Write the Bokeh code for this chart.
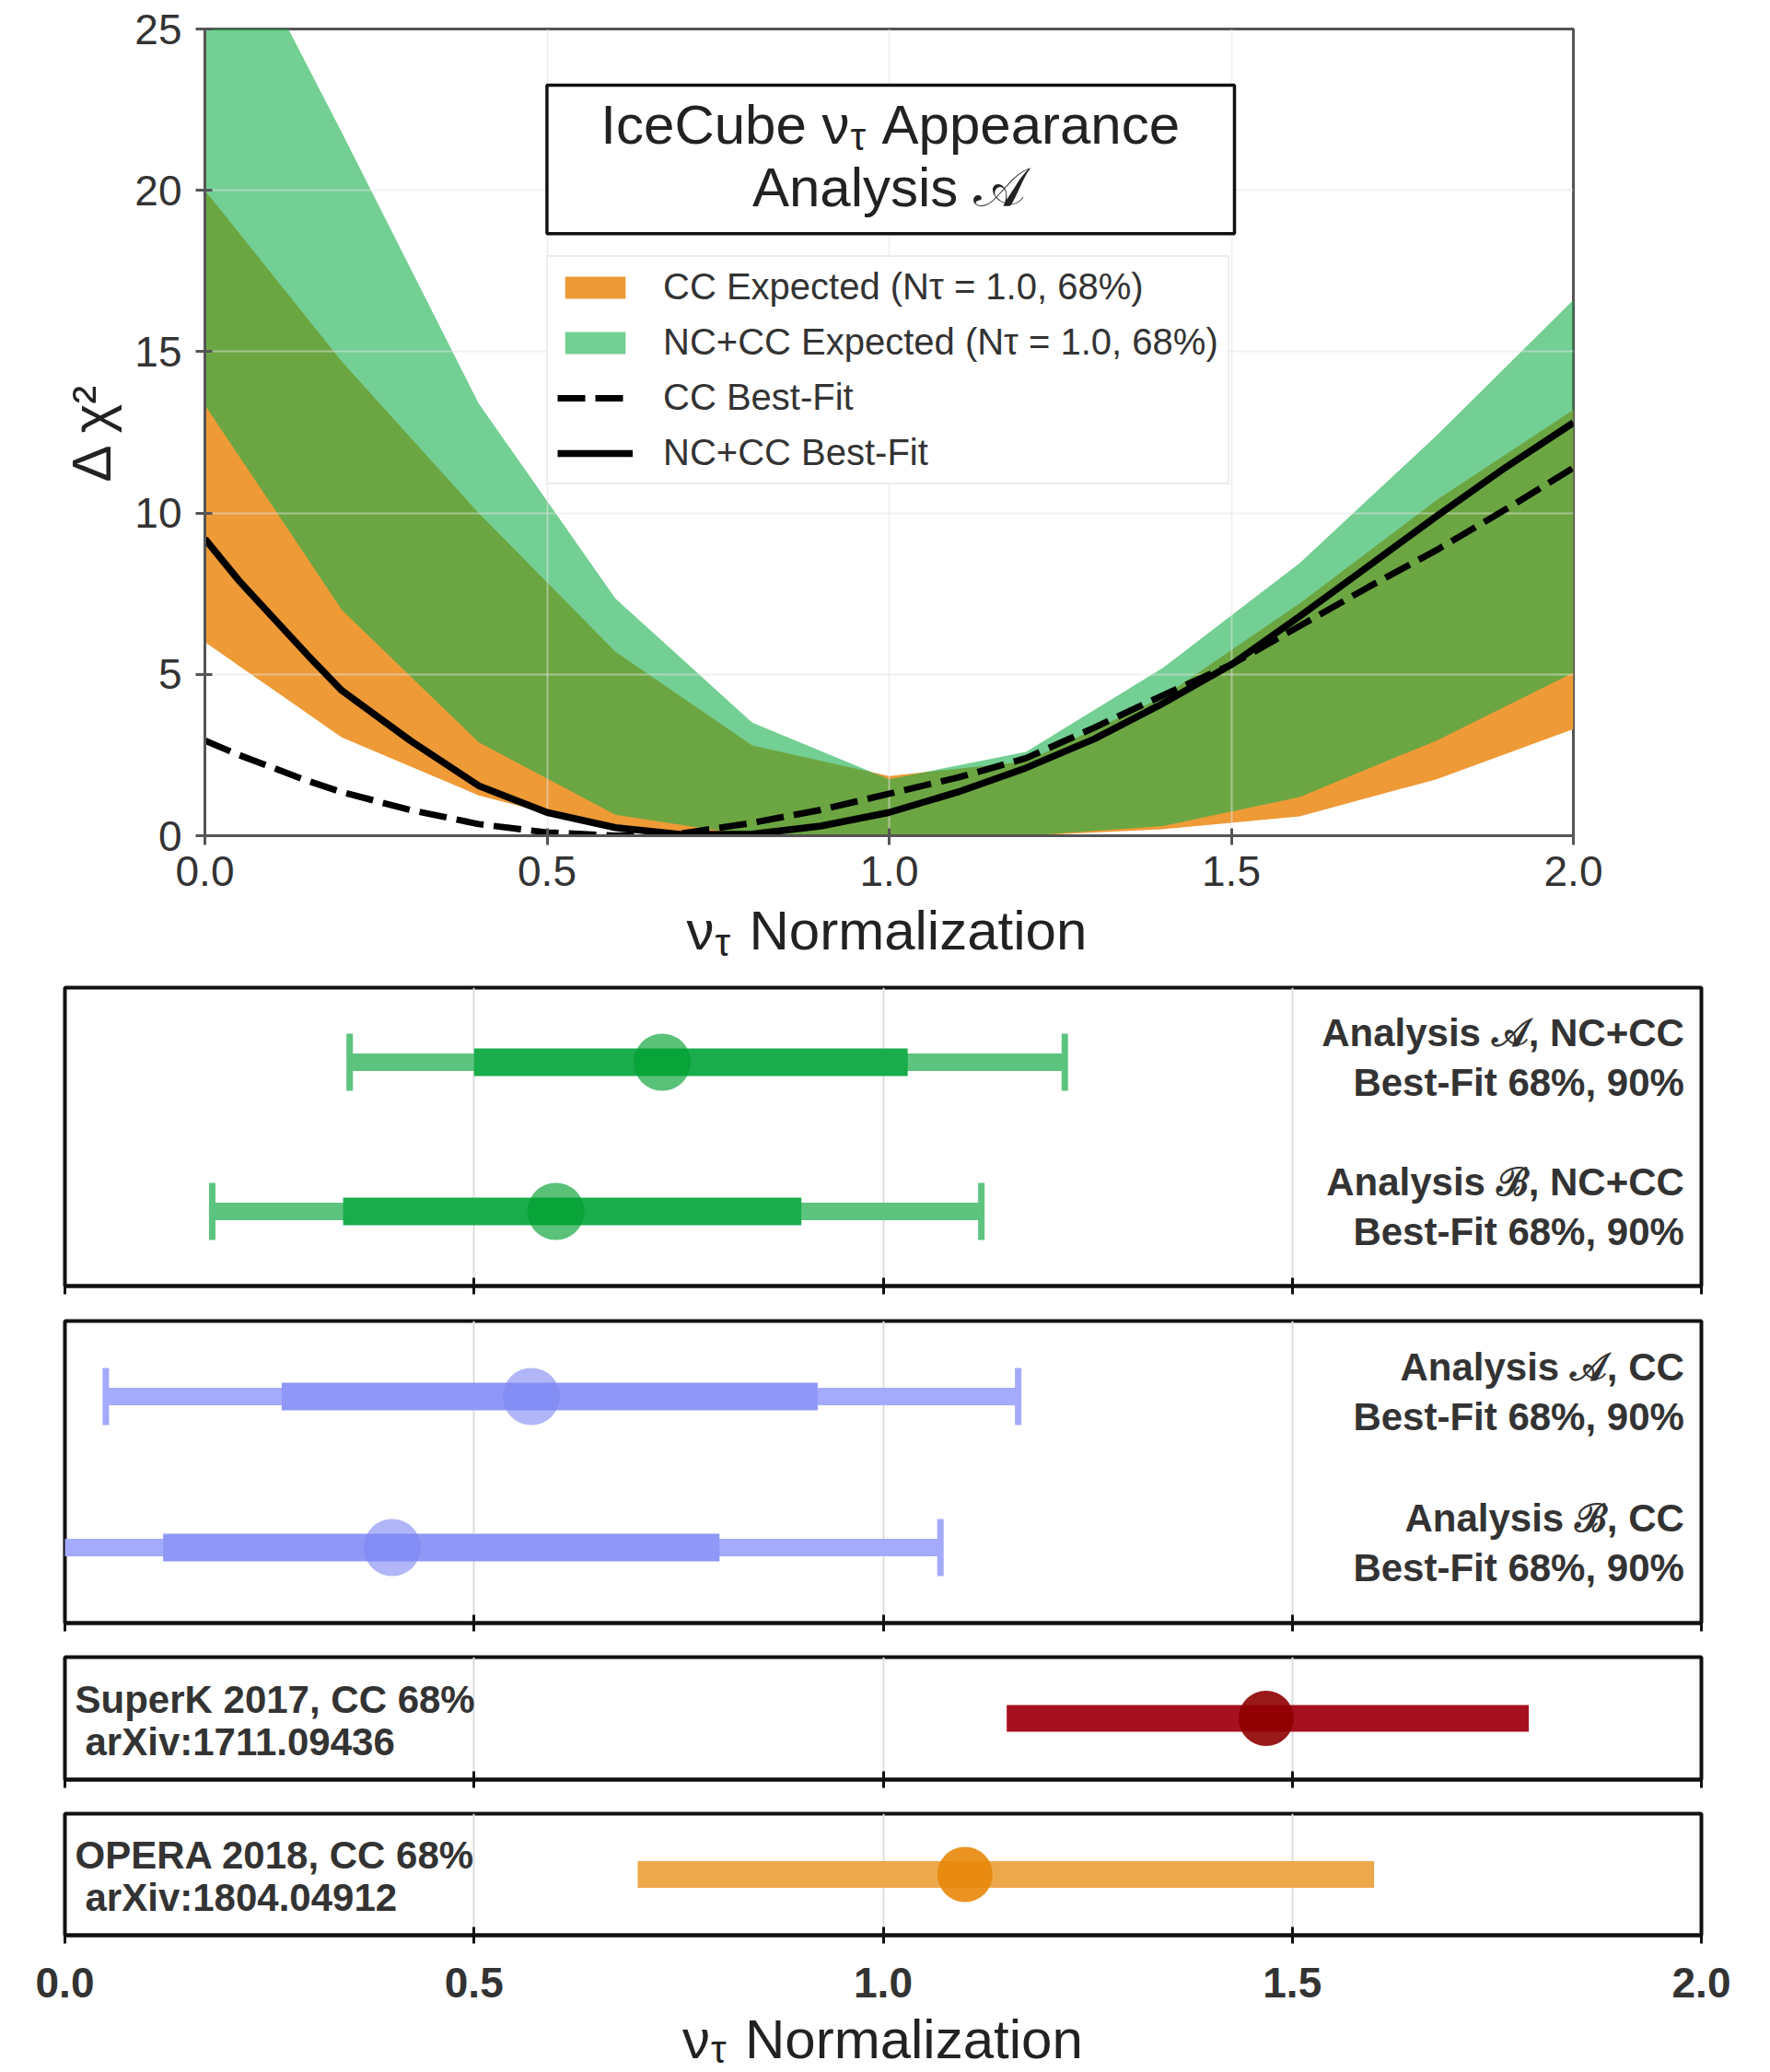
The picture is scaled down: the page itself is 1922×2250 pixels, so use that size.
from bokeh.plotting import figure
from bokeh.models import (Range1d, FixedTicker, PrintfTickFormatter, Legend, LegendItem,
                          Label, BoxAnnotation, CustomLabelingPolicy)
from bokeh.embed import file_html
from bokeh.resources import INLINE

# ---------------- data ----------------
band_x = [0.0, 0.2, 0.4, 0.6, 0.8, 1.0, 1.2, 1.4, 1.6, 1.8, 2.0]
cc_exp_lo = [6.0, 3.05, 1.25, 0.15, 0.0, 0.0, 0.0, 0.2, 0.6, 1.75, 3.3]
cc_exp_hi = [20.0, 14.7, 10.0, 5.7, 2.8, 1.85, 2.3, 4.3, 7.2, 10.4, 13.2]
nccc_exp_lo = [13.35, 7.0, 2.9, 0.65, 0.0, 0.0, 0.0, 0.3, 1.2, 2.95, 5.05]
nccc_exp_hi = [30.0, 21.8, 13.4, 7.35, 3.5, 1.75, 2.6, 5.2, 8.45, 12.4, 16.6]

fit_x = [0.0, 0.05, 0.1, 0.15, 0.2, 0.3, 0.4, 0.5, 0.6, 0.7, 0.8, 0.9, 1.0,
         1.1, 1.2, 1.3, 1.4, 1.5, 1.6, 1.7, 1.8, 1.9, 2.0]
cc_bestfit = [2.95, 2.5, 2.1, 1.7, 1.35, 0.8, 0.36, 0.1, 0.0, 0.08, 0.4, 0.8, 1.3,
              1.8, 2.4, 3.35, 4.35, 5.3, 6.5, 7.7, 8.85, 10.1, 11.4]
nccc_bestfit = [9.2, 7.9, 6.75, 5.6, 4.5, 2.95, 1.55, 0.72, 0.25, 0.03, 0.05, 0.3, 0.72,
                1.35, 2.1, 3.0, 4.1, 5.3, 6.8, 8.35, 9.9, 11.4, 12.8]

legend_labels = ["CC Expected (N\u03c4 = 1.0, 68%)",
                 "NC+CC Expected (N\u03c4 = 1.0, 68%)",
                 "CC Best-Fit",
                 "NC+CC Best-Fit"]

nccc_labels = ["Analysis \U0001D49C, NC+CC", "Analysis \u212C, NC+CC"]
nccc_best = [0.73, 0.60]
nccc_lo68 = [0.50, 0.34]
nccc_hi68 = [1.03, 0.90]
nccc_lo90 = [0.348, 0.18]
nccc_hi90 = [1.222, 1.12]

cc_labels = ["Analysis \U0001D49C, CC", "Analysis \u212C, CC"]
cc_best = [0.57, 0.40]
cc_lo68 = [0.265, 0.12]
cc_hi68 = [0.92, 0.80]
cc_lo90 = [0.05, -0.1]
cc_hi90 = [1.165, 1.07]

ext_labels = ["SuperK 2017, CC 68%", "OPERA 2018, CC 68%"]
ext_refs = ["arXiv:1711.09436", "arXiv:1804.04912"]
ext_best = [1.468, 1.10]
ext_lo68 = [1.151, 0.70]
ext_hi68 = [1.789, 1.60]

x_ticks = [0.0, 0.5, 1.0, 1.5, 2.0]
y_ticks = [0, 5, 10, 15, 20, 25]

FONT = "Liberation Sans"
NO_LABELS = CustomLabelingPolicy(code="for (const i of indices) { indices.unset(i) }\nreturn indices")


def lab(fig, x, y, text, xo=0, yo=0, align="left", size="60px",
        color="#222222", style="normal"):
    fig.add_layout(Label(x=x, y=y, x_offset=xo, y_offset=yo, text=text, text_align=align,
                         text_baseline="middle", text_font=FONT, text_font_size=size,
                         text_font_style=style, text_color=color))


def nu_tau_label(fig, x, y, text_before, text_after, nu_right, after_left, yo=0, sub=13):
    # text_before ends with "ν"; a smaller, lowered "τ" follows it as a subscript
    lab(fig, x, y, text_before, xo=nu_right, yo=yo, align="right")
    lab(fig, x, y, "\u03c4", xo=nu_right + 1, yo=yo - sub, align="left", size="42px")
    lab(fig, x, y, text_after, xo=after_left, yo=yo, align="left")


def hide_tick_labels(ax):
    ax.major_label_text_font_size = "1px"
    ax.major_label_standoff = 0
    ax.major_label_policy = NO_LABELS


def strip(height, left, right, top, x_axis):
    # strip under a plot: optional tick labels (axis above its frame) and the axis title
    f = figure(width=1922, height=height, x_range=Range1d(0, 2), y_range=Range1d(0, 1),
               output_backend="svg", toolbar_location=None,
               x_axis_location="above" if x_axis else None, y_axis_location=None,
               min_border_left=left, min_border_right=right, min_border_top=top, min_border_bottom=0)
    f.grid.visible = False
    f.outline_line_color = None
    f.background_fill_color = "white"
    f.border_fill_color = "white"
    return f


# ---------------- top plot ----------------
p = figure(width=1922, height=976, x_range=Range1d(0, 2), y_range=Range1d(0, 25),
           output_backend="svg", toolbar_location=None,
           min_border_left=222, min_border_right=214, min_border_top=31, min_border_bottom=69)
p.background_fill_color = "white"
p.border_fill_color = "white"
p.outline_line_color = "#555555"
p.outline_line_width = 3

r_cc = p.varea(x=band_x, y1=cc_exp_lo, y2=cc_exp_hi, fill_color="#ee9a36", fill_alpha=1.0, level="image")
r_nc = p.varea(x=band_x, y1=nccc_exp_lo, y2=nccc_exp_hi, fill_color="#16af4b", fill_alpha=0.6, level="image")
r_dash = p.line(fit_x, cc_bestfit, line_color="black", line_width=7, line_dash="30 11")
r_solid = p.line(fit_x, nccc_bestfit, line_color="black", line_width=7.5)

p.xgrid.ticker = FixedTicker(ticks=[0.5, 1.0, 1.5])
p.ygrid.ticker = FixedTicker(ticks=[5, 10, 15, 20])
p.grid.grid_line_color = "#e4e4e4"
p.grid.grid_line_alpha = 0.5
p.grid.grid_line_width = 2

for ax in (p.xaxis[0], p.yaxis[0]):
    ax.axis_line_color = "#555555"
    ax.axis_line_width = 3
    ax.major_tick_line_color = "#555555"
    ax.major_tick_line_width = 3
    ax.major_tick_in = 8
    ax.major_tick_out = 10
    ax.minor_tick_line_color = None
    ax.major_label_text_font = FONT
    ax.major_label_text_font_size = "46px"
    ax.major_label_text_color = "#333333"
    ax.axis_label_text_font = FONT
    ax.axis_label_text_font_size = "60px"
    ax.axis_label_text_font_style = "normal"
    ax.axis_label_text_color = "#222222"

p.xaxis.ticker = FixedTicker(ticks=x_ticks)
p.xaxis.formatter = PrintfTickFormatter(format="%.1f")
p.xaxis.major_label_standoff = 12
p.yaxis.ticker = FixedTicker(ticks=y_ticks)
p.yaxis.formatter = PrintfTickFormatter(format="%d")
p.yaxis.major_label_standoff = 15
p.yaxis.axis_label = "\u0394 \u03c7\u00b2"
p.yaxis.axis_label_standoff = 10

# title box
p.add_layout(BoxAnnotation(left=0.4999, right=1.5047, bottom=18.66, top=23.26,
                           fill_color="white", fill_alpha=1.0,
                           line_color="#111111", line_alpha=1.0, line_width=3.5))
nu_tau_label(p, 1.0, 22.03, "IceCube \u03bd", "Appearance", -43, -8)
lab(p, 1.0, 20.08, "Analysis \U0001D49C", align="center")

legend = Legend(items=[LegendItem(label=legend_labels[0], renderers=[r_cc]),
                       LegendItem(label=legend_labels[1], renderers=[r_nc]),
                       LegendItem(label=legend_labels[2], renderers=[r_dash]),
                       LegendItem(label=legend_labels[3], renderers=[r_solid])],
                location=(371, 381))
legend.label_text_font = FONT
legend.label_text_font_size = "40px"
legend.label_text_color = "#333333"
legend.glyph_width = 82
legend.glyph_height = 30
legend.label_height = 30
legend.label_standoff = 33
legend.padding = 10
legend.spacing = 15
legend.margin = 0
legend.border_line_color = "#dcdcdc"
legend.border_line_width = 2
legend.background_fill_alpha = 0.85
p.add_layout(legend)

# x-axis title of the top plot (with subscript tau)
top_strip = strip(84, 222, 214, 0, x_axis=False)
nu_tau_label(top_strip, 1.0, 0.0, "\u03bd", "Normalization", -190, -152, yo=50)


# ---------------- lower panels ----------------
def make_panel(height, btop, bbottom, ymax):
    q = figure(width=1922, height=height, x_range=Range1d(0, 2), y_range=Range1d(0, ymax),
               output_backend="svg", toolbar_location=None,
               min_border_left=70, min_border_right=75,
               min_border_top=btop, min_border_bottom=bbottom)
    q.background_fill_color = "white"
    q.border_fill_color = "white"
    q.outline_line_color = "#111111"
    q.outline_line_width = 4
    q.yaxis.visible = False
    q.ygrid.visible = False
    q.xgrid.ticker = FixedTicker(ticks=[0.5, 1.0, 1.5])
    q.xgrid.grid_line_color = "#dddddd"
    q.xgrid.grid_line_width = 2
    ax = q.xaxis[0]
    ax.ticker = FixedTicker(ticks=x_ticks)
    ax.axis_line_color = "#111111"
    ax.axis_line_width = 4
    ax.major_tick_line_color = "#111111"
    ax.major_tick_line_width = 3
    ax.major_tick_in = 9
    ax.major_tick_out = 9
    ax.minor_tick_line_color = None
    hide_tick_labels(ax)
    return q


def draw_rows(q, rows, best, lo68, hi68, lo90, hi90, thin_c, thick_c, dot_c, dot_a):
    q.segment(x0=lo90, y0=rows, x1=hi90, y1=rows, line_color=thin_c, line_width=19, line_cap="butt")
    q.rect(x=lo90 + hi90, y=rows + rows, width=7, height=62, width_units="screen",
           height_units="screen", fill_color=thin_c, line_color=None)
    q.segment(x0=lo68, y0=rows, x1=hi68, y1=rows, line_color=thick_c, line_width=30, line_cap="butt")
    q.scatter(x=best, y=rows, size=62, marker="circle", fill_color=dot_c, fill_alpha=dot_a,
              line_color=None)


def right_text(q, rows, labels):
    for yy, lb in zip(rows, labels):
        lab(q, 1.979, yy, lb, yo=32, align="right", size="42px", color="#333333", style="bold")
        lab(q, 1.979, yy, "Best-Fit 68%, 90%", yo=-22, align="right", size="42px",
            color="#333333", style="bold")


two_rows = [1.5, 0.5]
one_row = [0.5]

q1 = make_panel(355, 12, 19, 2)
draw_rows(q1, two_rows, nccc_best, nccc_lo68, nccc_hi68, nccc_lo90, nccc_hi90,
          "#5cc47f", "#1aad4c", "#00a030", 0.65)
right_text(q1, two_rows, nccc_labels)

q2 = make_panel(365, 19, 18, 2)
draw_rows(q2, two_rows, cc_best, cc_lo68, cc_hi68, cc_lo90, cc_hi90,
          "#a4aafc", "#8f98f7", "#7c86f2", 0.6)
right_text(q2, two_rows, cc_labels)

ext_colors = [("#a6101f", "#8f0000"), ("#eea84c", "#e8870a")]
panels = []
for i in range(2):
    last = (i == 1)
    q = make_panel(165 if last else 170, 19, 14 if last else 18, 1)
    bar_c, dot_c = ext_colors[i]
    q.segment(x0=[ext_lo68[i]], y0=one_row, x1=[ext_hi68[i]], y1=one_row,
              line_color=bar_c, line_width=29, line_cap="butt")
    q.scatter(x=[ext_best[i]], y=one_row, size=60, marker="circle", fill_color=dot_c,
              fill_alpha=0.9, line_color=None)
    lab(q, 0.0, 0.5, ext_labels[i], xo=11, yo=21, size="42px", color="#333333", style="bold")
    lab(q, 0.0, 0.5, ext_refs[i], xo=22, yo=-25, size="42px", color="#333333", style="bold")
    panels.append(q)

# tick labels (bold) and x-axis title of the lower panels
bottom_strip = strip(135, 70, 75, 67, x_axis=True)
bax = bottom_strip.xaxis[0]
bax.ticker = FixedTicker(ticks=x_ticks)
bax.formatter = PrintfTickFormatter(format="%.1f")
bax.axis_line_color = None
bax.major_tick_line_color = None
bax.major_tick_in = 0
bax.major_tick_out = 0
bax.minor_tick_line_color = None
bax.major_label_standoff = 14
bax.major_label_text_font = FONT
bax.major_label_text_font_size = "46px"
bax.major_label_text_font_style = "bold"
bax.major_label_text_color = "#333333"
nu_tau_label(bottom_strip, 1.0, 0.0, "\u03bd", "Normalization", -188, -150, yo=36, sub=11)

roots = [p, top_strip, q1, q2, panels[0], panels[1], bottom_strip]
open("out.html", "w").write(file_html(roots, INLINE))
